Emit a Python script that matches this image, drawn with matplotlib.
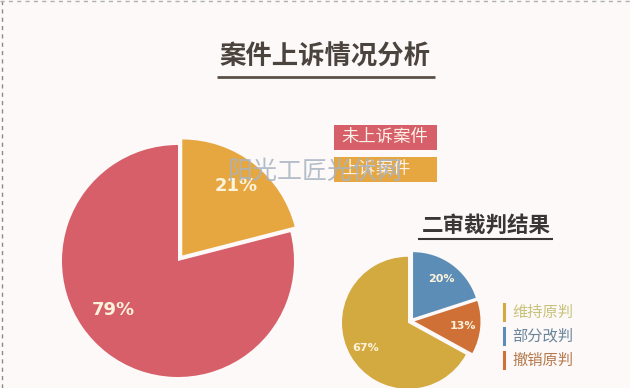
import matplotlib.pyplot as plt

plt.rcParams['font.family'] = ['Noto Sans CJK SC', 'DejaVu Sans']

# 案件上诉情况
appeal_labels = ['上诉案件', '未上诉案件']
appeal_values = [21, 79]
appeal_colors = ['#e6a740', '#d75f69']

# 二审裁判结果
result_labels = ['部分改判', '撤销原判', '维持原判']
result_values = [20, 13, 67]
result_colors = ['#5b8db6', '#cf7037', '#d3aa40']
result_text_colors = ['#6a8599', '#b67a4c', '#c9c27a']

W, H = 630, 388
fig = plt.figure(figsize=(6.3, 3.88), dpi=100)
fig.patch.set_facecolor('#fdf9f9')
ax = fig.add_axes([0, 0, 1, 1])
ax.set_facecolor('#fdf9f9')


def Y(y):
    return H - y


# big pie (explode is in data units here, i.e. pixels)
wedges, texts, autos = ax.pie(appeal_values, colors=appeal_colors, startangle=90,
                              counterclock=False, explode=[7, 0],
                              center=(178, Y(261)), radius=116,
                              autopct='%d%%', pctdistance=0.76,
                              wedgeprops=dict(linewidth=0),
                              textprops=dict(color='#fdf3dc', fontsize=13,
                                             fontweight='bold', family='DejaVu Sans'))
autos[1].set_position((113, Y(310)))

# small pie
w2, t2, a2 = ax.pie(result_values, colors=result_colors, startangle=90,
                    counterclock=False, explode=[3.5, 3.5, 3.5],
                    center=(411, Y(321)), radius=66,
                    autopct='%d%%', pctdistance=0.74,
                    wedgeprops=dict(linewidth=0),
                    textprops=dict(color='#fdf3dc', fontsize=8,
                                   fontweight='bold', family='DejaVu Sans'))

ax.set_xlim(0, W)
ax.set_ylim(0, H)
ax.set_aspect('auto')
ax.axis('off')

# titles
ax.text(325, Y(57), '案件上诉情况分析', ha='center', va='center', fontsize=19,
        fontweight='heavy', color='#4b433d')
ax.plot([217, 435], [Y(77), Y(77)], color='#5a5048', lw=2, solid_capstyle='butt')
ax.text(486, Y(225), '二审裁判结果', ha='center', va='center', fontsize=15.5,
        fontweight='heavy', color='#3a3634')
ax.plot([418, 553], [Y(239), Y(239)], color='#3a3634', lw=1.5, solid_capstyle='butt')

# legend for big pie
legend_y = [137, 169]
for lab, col, yy in zip(appeal_labels[::-1], appeal_colors[::-1], legend_y):
    ax.add_patch(plt.Rectangle((334, Y(yy + 12.5)), 103, 25, color=col, lw=0))
    ax.text(341, Y(yy), lab, ha='left', va='center', fontsize=12.5, color='#fdf0e6')

# legend for small pie
order = [2, 0, 1]
for i, yy in zip(order, [312, 336, 360]):
    ax.plot([504, 504], [Y(yy - 8), Y(yy + 8)], color=result_colors[i], lw=2.2)
    ax.text(512, Y(yy), result_labels[i], ha='left', va='center', fontsize=11,
            color=result_text_colors[i])

# dashed border
ax.plot([2, 2], [0, H], color='#8a8a8a', lw=1, ls=(0, (3, 3)))
ax.plot([0, W], [Y(1), Y(1)], color='#b0b0b0', lw=1, ls=(0, (3, 3)))

# watermark
ax.text(228, Y(172), '阳光工匠光伏网', ha='left', va='center', fontsize=18,
        color='#a8b3c2', alpha=0.85, zorder=10)

fig.savefig('out.png', dpi=100, facecolor=fig.get_facecolor())
